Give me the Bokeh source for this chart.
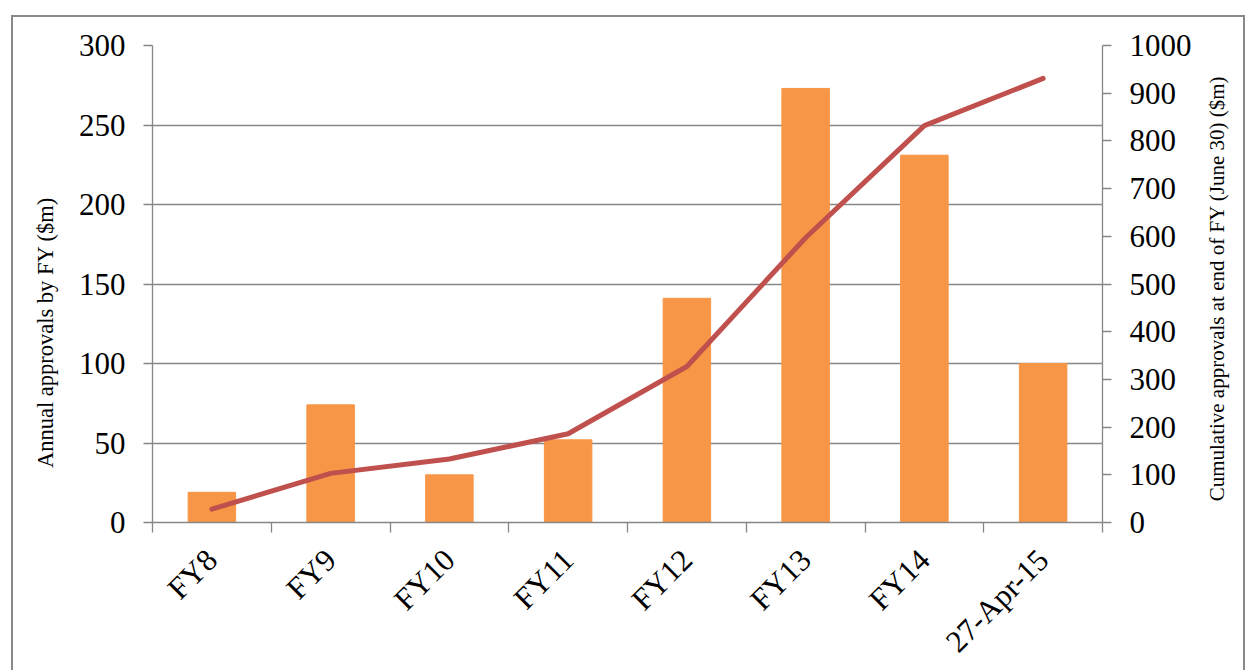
import math
from bokeh.plotting import figure
from bokeh.layouts import row
from bokeh.models import Range1d, LinearAxis, FixedTicker, Label
from bokeh.embed import file_html
from bokeh.resources import INLINE

categories = ["FY8", "FY9", "FY10", "FY11", "FY12", "FY13", "FY14", "27-Apr-15"]
annual = [19, 74, 30, 52, 141, 273, 231, 100]
cumulative = [28, 103, 133, 186, 327, 597, 832, 931]
left_ticks = [0, 50, 100, 150, 200, 250, 300]
right_ticks = [0, 100, 200, 300, 400, 500, 600, 700, 800, 900, 1000]
left_title = "Annual approvals by FY ($m)"
right_title = "Cumulative approvals at end of FY (June 30) ($m)"

FONT = "Liberation Serif"
GRAY = "#868686"

n = len(categories)
centers = [i + 0.5 for i in range(n)]
bounds = [i for i in range(n + 1)]

TOP, BOTTOM, FH = 28, 151, 477


def title_strip(text, size, fw, left, right, lx, ly):
    """Narrow figure that only carries a rotated (bottom-to-top) axis title."""
    f = figure(frame_width=fw, frame_height=FH,
               x_range=Range1d(0, 1), y_range=Range1d(0, 1),
               x_axis_location=None, y_axis_location=None,
               output_backend="svg", toolbar_location=None,
               min_border_left=left, min_border_right=right,
               min_border_top=TOP, min_border_bottom=BOTTOM,
               background_fill_color="white", border_fill_color="white")
    f.outline_line_color = None
    f.grid.visible = False
    f.add_layout(Label(x=lx, y=ly, x_units="screen", y_units="screen", text=text,
                       angle=math.pi / 2, text_align="center", text_baseline="middle",
                       text_font=FONT, text_font_size=size, text_color="black"))
    return f


p = figure(frame_width=950, frame_height=FH,
           x_range=Range1d(0, n), y_range=Range1d(0, 300),
           output_backend="svg", toolbar_location=None,
           min_border_left=79, min_border_right=98,
           min_border_top=TOP, min_border_bottom=BOTTOM,
           background_fill_color="white", border_fill_color="white")
p.outline_line_color = None
p.extra_y_ranges = {"cum": Range1d(0, 1000)}

# grid
p.xgrid.grid_line_color = None
p.ygrid.grid_line_color = GRAY
p.ygrid.grid_line_width = 1.3

# x axis
xa = p.xaxis[0]
xa.ticker = FixedTicker(ticks=centers, minor_ticks=bounds)
xa.major_label_overrides = {c: lab for c, lab in zip(centers, categories)}
xa.major_tick_out = 0
xa.major_tick_in = 0
xa.minor_tick_out = 10
xa.minor_tick_in = 0
xa.minor_tick_line_color = GRAY
xa.minor_tick_line_width = 1.3
xa.axis_line_color = GRAY
xa.axis_line_width = 1.3
xa.major_label_orientation = math.pi / 4
xa.major_label_standoff = 22
xa.major_label_text_font = FONT
xa.major_label_text_font_size = "31px"
xa.major_label_text_color = "black"

# left axis
ya = p.yaxis[0]
ya.ticker = FixedTicker(ticks=left_ticks)
ya.major_tick_out = 9
ya.major_tick_in = 0
ya.minor_tick_line_color = None
ya.major_tick_line_color = GRAY
ya.major_tick_line_width = 1.3
ya.axis_line_color = GRAY
ya.axis_line_width = 1.3
ya.major_label_standoff = 18
ya.major_label_text_font = FONT
ya.major_label_text_font_size = "31px"
ya.major_label_text_color = "black"

# right axis
ra = LinearAxis(y_range_name="cum", ticker=FixedTicker(ticks=right_ticks))
ra.major_tick_out = 9
ra.major_tick_in = 0
ra.minor_tick_line_color = None
ra.major_tick_line_color = GRAY
ra.major_tick_line_width = 1.3
ra.axis_line_color = GRAY
ra.axis_line_width = 1.3
ra.major_label_standoff = 18
ra.major_label_text_font = FONT
ra.major_label_text_font_size = "31px"
ra.major_label_text_color = "black"
p.add_layout(ra, "right")

p.vbar(x=centers, top=annual, width=0.4, fill_color="#F79646", line_color="#F79646")
p.line(x=centers, y=cumulative, y_range_name="cum", line_color="#C0504D",
       line_width=5, line_cap="round", line_join="round")

# title strips (label positions are relative to each strip's frame)
p_left = title_strip(left_title, "22.5px", 40, 12, 8, 20, 190)
p_right = title_strip(right_title, "21px", 36, 2, 5, 14, 234)

layout = row(p_left, p, p_right)
layout.margin = (15, 0, 0, 11)
layout.styles = {"border-top": "2px solid #898989", "border-left": "2px solid #898989",
                 "border-right": "2px solid #898989"}

open("out.html", "w").write(file_html(layout, INLINE))
